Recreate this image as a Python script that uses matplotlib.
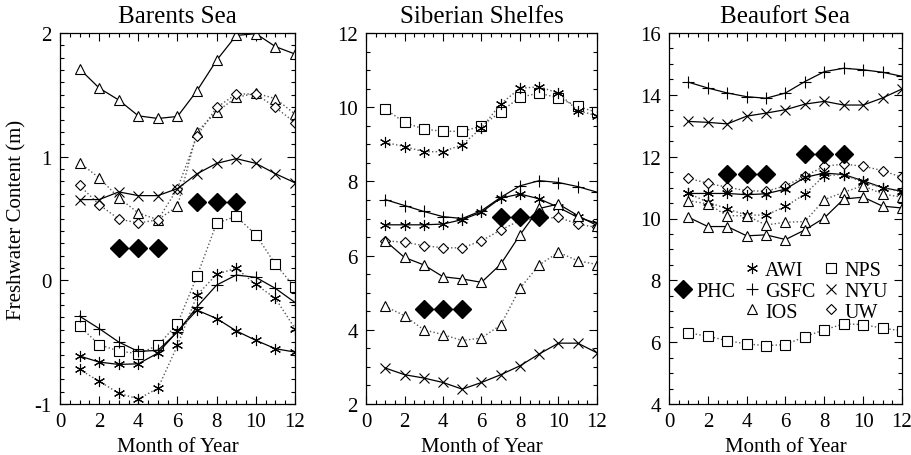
import numpy as np
import matplotlib.pyplot as plt
from matplotlib.lines import Line2D
from matplotlib.ticker import MultipleLocator

plt.rcParams['font.family'] = 'Liberation Serif'
plt.rcParams['axes.unicode_minus'] = False

months = np.arange(1, 13)
phc_months_a = [3, 4, 5]
phc_months_b = [7, 8, 9]

# Barents Sea
bar_ios_a = [1.71, 1.555, 1.458, 1.33, 1.309, 1.325, 1.534, 1.78, 1.98, 1.995, 1.89, 1.83]
bar_ios_b = [0.951, 0.829, 0.667, 0.545, 0.49, 0.599, 1.203, 1.363, 1.48, 1.512, 1.47, 1.344]
bar_uw = [0.767, 0.612, 0.496, 0.463, 0.49, 0.742, 1.168, 1.398, 1.507, 1.507, 1.398, 1.276]
bar_nyu = [0.653, 0.653, 0.715, 0.685, 0.685, 0.742, 0.862, 0.946, 0.984, 0.946, 0.862, 0.789]
bar_nps = [-0.371, -0.52, -0.572, -0.593, -0.526, -0.35, 0.035, 0.463, 0.517, 0.369, 0.13, -0.057]
bar_gsfc = [-0.29, -0.39, -0.499, -0.575, -0.566, -0.417, -0.214, -0.038, 0.043, 0.024, -0.065, -0.179]
bar_awi_a = [-0.612, -0.661, -0.68, -0.675, -0.588, -0.412, -0.241, -0.309, -0.409, -0.485, -0.553, -0.58]
bar_awi_b = [-0.721, -0.816, -0.913, -0.959, -0.873, -0.526, -0.119, 0.049, 0.098, -0.033, -0.146, -0.39]
bar_phc = [0.26, 0.63]

# Siberian Shelfes
sib_nps = [9.95, 9.59, 9.41, 9.35, 9.35, 9.49, 9.88, 10.27, 10.38, 10.25, 10.02, 9.86]
sib_awi_b = [9.05, 8.94, 8.80, 8.80, 8.99, 9.44, 10.09, 10.51, 10.55, 10.38, 9.91, 9.77]
sib_gsfc = [7.51, 7.35, 7.19, 7.05, 7.0, 7.21, 7.57, 7.88, 8.02, 7.97, 7.86, 7.71]
sib_awi_a = [6.83, 6.83, 6.83, 6.85, 6.97, 7.17, 7.55, 7.66, 7.53, 7.30, 7.03, 6.87]
sib_uw = [6.40, 6.36, 6.27, 6.21, 6.21, 6.40, 6.69, 6.95, 7.0, 7.03, 6.85, 6.76]
sib_ios_a = [6.40, 5.95, 5.75, 5.43, 5.37, 5.28, 5.77, 6.56, 7.27, 7.39, 7.08, 6.81]
sib_ios_b = [4.63, 4.38, 4.00, 3.87, 3.71, 3.78, 4.13, 5.12, 5.75, 6.09, 5.86, 5.76]
sib_nyu = [2.97, 2.79, 2.70, 2.58, 2.40, 2.58, 2.79, 3.03, 3.35, 3.64, 3.64, 3.38]
sib_phc = [4.56, 7.03]

# Beaufort Sea
bea_gsfc = [14.41, 14.22, 14.06, 13.94, 13.89, 14.06, 14.43, 14.75, 14.86, 14.81, 14.73, 14.60]
bea_nyu = [13.14, 13.11, 13.06, 13.31, 13.41, 13.52, 13.70, 13.79, 13.67, 13.67, 13.90, 14.19]
bea_uw = [11.30, 11.14, 11.01, 10.90, 10.88, 11.06, 11.37, 11.69, 11.76, 11.69, 11.55, 11.33]
bea_awi_a = [10.81, 10.81, 10.81, 10.77, 10.80, 10.95, 11.33, 11.47, 11.42, 11.22, 11.0, 10.88]
bea_awi_b = [10.81, 10.53, 10.31, 10.11, 10.11, 10.39, 10.79, 11.39, 11.42, 11.17, 11.0, 10.85]
bea_ios_b = [10.58, 10.47, 10.09, 10.09, 9.79, 9.88, 9.90, 10.61, 10.85, 11.06, 10.79, 10.69]
bea_ios_a = [10.04, 9.74, 9.74, 9.44, 9.47, 9.32, 9.63, 10.02, 10.63, 10.69, 10.40, 10.34]
bea_nps = [6.30, 6.19, 6.05, 5.94, 5.89, 5.92, 6.18, 6.40, 6.59, 6.57, 6.45, 6.37]
bea_phc = [11.44, 12.09]

ASTER = (6, 2, 0)
sym = {'AWI': ASTER, 'GSFC': '+', 'IOS': '^', 'NPS': 's', 'NYU': 'x', 'UW': 'D'}
msz = {'AWI': 8, 'GSFC': 8, 'IOS': 7.5, 'NPS': 6.5, 'NYU': 7, 'UW': 5.5}


def series(ax, y, model, solid):
    ls = '-' if solid else ':'
    col = 'black' if solid else '0.35'
    ax.plot(months, y, linestyle=ls, color=col, lw=0.9 if solid else 1.0,
            marker=sym[model], ms=msz[model], mfc='white', mec='black', mew=0.8)


def phc(ax, vals):
    ax.plot(phc_months_a, [vals[0]] * 3, 'D', color='black', ms=9, ls='none')
    ax.plot(phc_months_b, [vals[1]] * 3, 'D', color='black', ms=9, ls='none')


fig = plt.figure(figsize=(9.12, 4.56), dpi=100)
ax1 = fig.add_axes([60 / 912, 51 / 456, 235 / 912, 371 / 456])
ax2 = fig.add_axes([366 / 912, 51 / 456, 231 / 912, 371 / 456])
ax3 = fig.add_axes([669 / 912, 51 / 456, 233 / 912, 371 / 456])

series(ax1, bar_ios_a, 'IOS', True)
series(ax1, bar_ios_b, 'IOS', False)
series(ax1, bar_uw, 'UW', False)
series(ax1, bar_nyu, 'NYU', True)
series(ax1, bar_nps, 'NPS', False)
series(ax1, bar_gsfc, 'GSFC', True)
series(ax1, bar_awi_a, 'AWI', True)
series(ax1, bar_awi_b, 'AWI', False)
phc(ax1, bar_phc)

series(ax2, sib_nps, 'NPS', False)
series(ax2, sib_awi_b, 'AWI', False)
series(ax2, sib_gsfc, 'GSFC', True)
series(ax2, sib_awi_a, 'AWI', True)
series(ax2, sib_uw, 'UW', False)
series(ax2, sib_ios_a, 'IOS', True)
series(ax2, sib_ios_b, 'IOS', False)
series(ax2, sib_nyu, 'NYU', True)
phc(ax2, sib_phc)

series(ax3, bea_gsfc, 'GSFC', True)
series(ax3, bea_nyu, 'NYU', True)
series(ax3, bea_uw, 'UW', False)
series(ax3, bea_awi_a, 'AWI', True)
series(ax3, bea_awi_b, 'AWI', False)
series(ax3, bea_ios_b, 'IOS', False)
series(ax3, bea_ios_a, 'IOS', True)
series(ax3, bea_nps, 'NPS', False)
phc(ax3, bea_phc)

ax1.set_ylim(-1, 2)
ax1.yaxis.set_major_locator(MultipleLocator(1))
ax1.yaxis.set_minor_locator(MultipleLocator(0.1))
ax2.set_ylim(2, 12)
ax3.set_ylim(4, 16)
for ax in [ax2, ax3]:
    ax.yaxis.set_major_locator(MultipleLocator(2))
    ax.yaxis.set_minor_locator(MultipleLocator(0.5))

titles = ['Barents Sea', 'Siberian Shelfes', 'Beaufort Sea']
for ax, title in zip([ax1, ax2, ax3], titles):
    ax.set_xlim(0, 12)
    ax.xaxis.set_major_locator(MultipleLocator(2))
    ax.xaxis.set_minor_locator(MultipleLocator(0.5))
    ax.tick_params(which='both', direction='in', top=True, right=True, labelsize=15, pad=6)
    ax.tick_params(which='major', length=6, width=0.8)
    ax.tick_params(which='minor', length=3, width=0.8)
    for s in ax.spines.values():
        s.set_linewidth(0.9)
    ax.set_title(title, fontsize=18, pad=8)
    ax.set_xlabel('Month of Year', fontsize=15, labelpad=4)

ax1.set_ylabel('Freshwater Content (m)', fontsize=15, labelpad=6)

blank = Line2D([], [], ls='none', marker='none')
handles = [blank,
           Line2D([], [], ls='none', marker='D', color='black', ms=9),
           blank]
labels = ['', 'PHC', '']
for m in ['AWI', 'GSFC', 'IOS', 'NPS', 'NYU', 'UW']:
    handles.append(Line2D([], [], ls='none', marker=sym[m], ms=msz[m], mfc='white', mec='black', mew=0.8))
    labels.append(m)
ax3.legend(handles, labels, ncol=3, loc='upper left', bbox_to_anchor=(-0.02, 0.418),
           frameon=False, fontsize=14.5, handlelength=0.7, handletextpad=0.3,
           columnspacing=0.45, labelspacing=0.08, borderaxespad=0.2)

plt.savefig('out.png', dpi=100)
